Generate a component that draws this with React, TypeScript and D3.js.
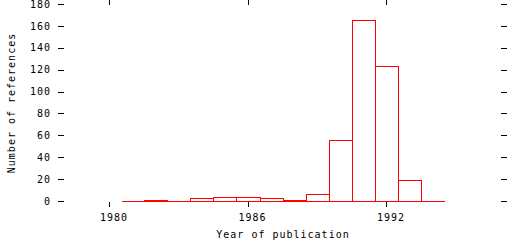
import React from "react";
import * as d3 from "d3";

const years = [1981, 1982, 1983, 1984, 1985, 1986, 1987, 1988, 1989, 1990, 1991, 1992, 1993, 1994];
const counts = [0, 1, 0, 3, 4, 4, 3, 1, 6, 56, 165, 123, 19, 0];
const yTicks = [0, 20, 40, 60, 80, 100, 120, 140, 160, 180];
const xTicks = [1980, 1986, 1992];

const W = 512;
const H = 240;
const FONT = "'DejaVu Sans Mono', monospace";

export default function App() {
  const x = d3.scaleLinear().domain([1980, 1992]).range([109.5, 386.5]);
  const y = d3.scaleLinear().domain([0, 180]).range([201.5, 4.5]);

  const bars = years.map((yr, i) => {
    const x0 = Math.round(x(yr - 0.5)) + 0.5;
    const x1 = Math.round(x(yr + 0.5)) + 0.5;
    const y0 = y(0);
    const y1 = Math.round(y(counts[i]) - 0.5) + 0.5;
    return `M${x0},${y0}V${y1}H${x1}V${y0}Z`;
  });

  const textStyle = { fontFamily: FONT, fontSize: 10, letterSpacing: 1 } as React.CSSProperties;

  return (
    <svg
      width={W}
      height={H}
      style={{ position: "absolute", left: 0, top: 0, background: "#fff" }}
    >
      <g shapeRendering="crispEdges" stroke="#000" strokeWidth={1}>
        {yTicks.map((t) => (
          <g key={t}>
            <line x1={58} x2={64} y1={Math.round(y(t) - 0.5) + 0.5} y2={Math.round(y(t) - 0.5) + 0.5} />
            <line x1={501} x2={507} y1={Math.round(y(t) - 0.5) + 0.5} y2={Math.round(y(t) - 0.5) + 0.5} />
          </g>
        ))}
        {xTicks.map((t) => (
          <g key={t}>
            <line x1={Math.floor(x(t)) + 0.5} x2={Math.floor(x(t)) + 0.5} y1={0} y2={5} />
            <line x1={Math.floor(x(t)) + 0.5} x2={Math.floor(x(t)) + 0.5} y1={202} y2={207} />
          </g>
        ))}
      </g>
      <g fill="none" stroke="#ff0000" strokeWidth={1} shapeRendering="crispEdges">
        {bars.map((d, i) => (
          <path key={years[i]} d={d} />
        ))}
      </g>
      <g style={textStyle} fill="#000">
        {yTicks.map((t) => (
          <text key={t} x={51} y={y(t) + 3.2} textAnchor="end">
            {t}
          </text>
        ))}
        {xTicks.map((t) => (
          <text key={t} x={x(t) + 4.5} y={221} textAnchor="middle">
            {t}
          </text>
        ))}
        <text x={283} y={237.5} textAnchor="middle">
          Year of publication
        </text>
        <text transform="translate(15,103) rotate(-90)" textAnchor="middle">
          Number of references
        </text>
      </g>
    </svg>
  );
}
